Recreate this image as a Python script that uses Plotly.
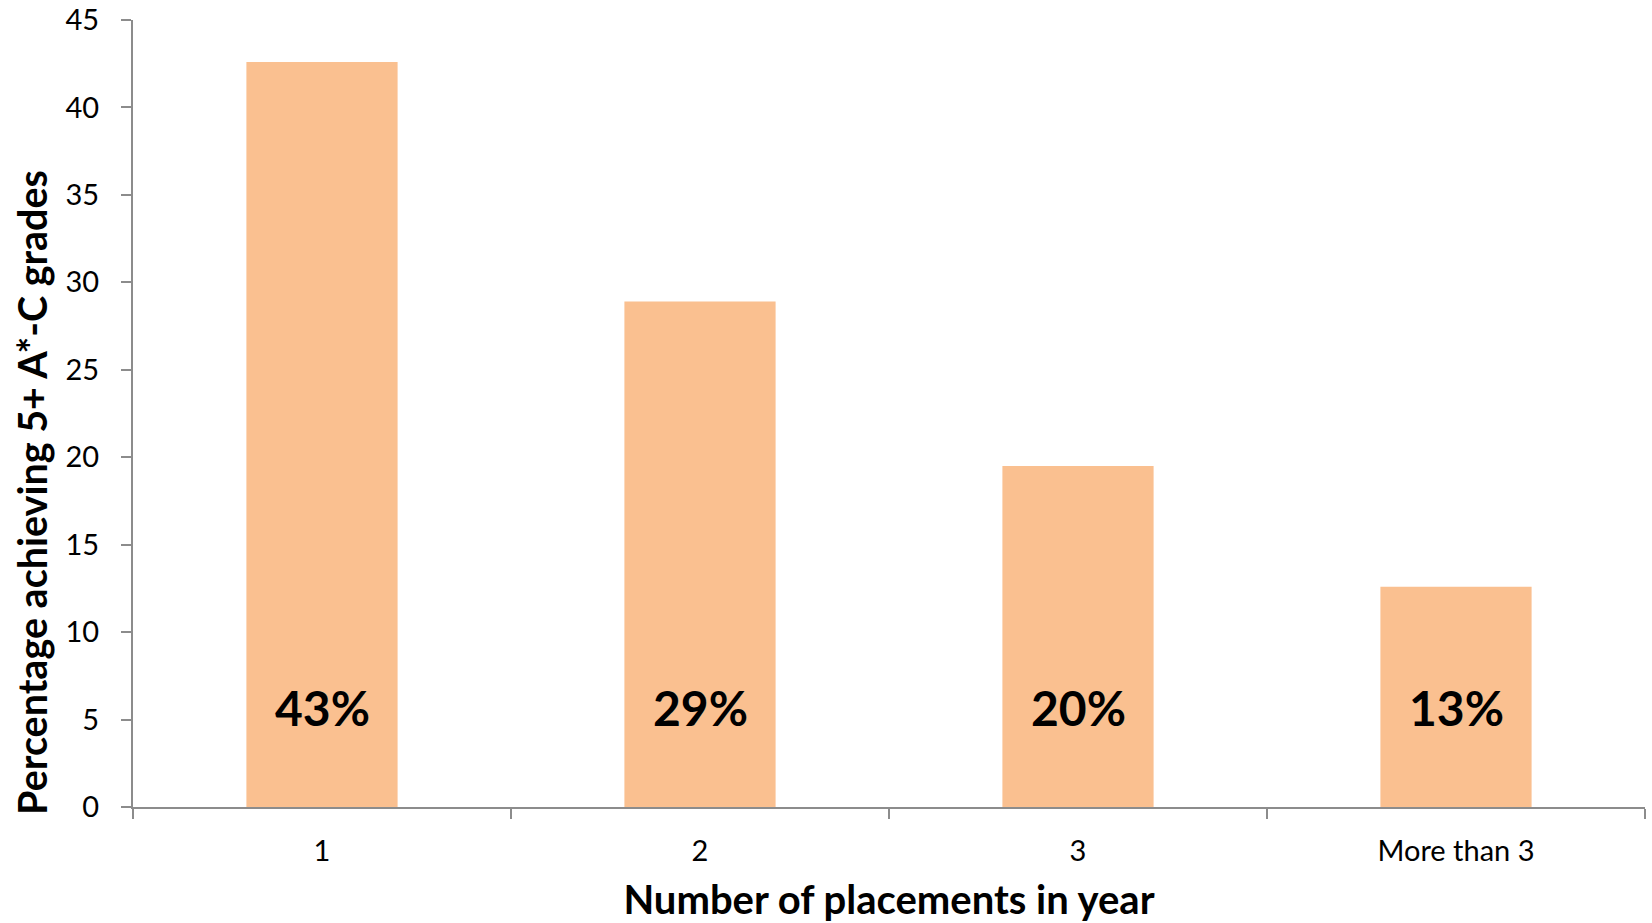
import plotly.graph_objects as go

# Share of pupils achieving 5+ A*-C grades by number of care placements in the year
categories = ["1", "2", "3", "More than 3"]
percent_achieving = [42.6, 28.9, 19.5, 12.6]
value_labels = [f"{round(v)}%" for v in percent_achieving]
y_ticks = [0, 5, 10, 15, 20, 25, 30, 35, 40, 45]

BAR_COLOR = "#FAC090"
AXIS_COLOR = "#8C8C8C"
FONT = "Lato"

fig = go.Figure(
    go.Bar(
        x=categories,
        y=percent_achieving,
        marker=dict(color=BAR_COLOR, line=dict(width=0)),
        hoverinfo="x+y",
    )
)

# Bold percentage labels sitting low inside each bar (x given as category index)
for idx, label in enumerate(value_labels):
    fig.add_annotation(
        x=idx, xref="x", y=0, yref="y", yshift=100, text=f"<b>{label}</b>",
        showarrow=False, yanchor="middle", xanchor="center",
        font=dict(family=FONT, size=48, color="#000000"),
    )

# Vertical axis title, placed a little below the plot's mid-height
fig.add_annotation(
    x=-0.067, xref="paper", y=0.40, yref="paper",
    text="<b>Percentage achieving 5+ A*-C grades</b>", textangle=-90,
    showarrow=False, xanchor="center", yanchor="middle",
    font=dict(family=FONT, size=39.5, color="#000000"),
)

fig.update_layout(
    width=1652, height=923,
    margin=dict(l=133, r=7, t=19.5, b=116, autoexpand=False),
    paper_bgcolor="white", plot_bgcolor="white",
    bargap=0.6, showlegend=False,
    font=dict(family=FONT, color="#000000"),
)

fig.update_xaxes(
    type="category",
    showline=True, linecolor=AXIS_COLOR, linewidth=2,
    ticks="outside", tickson="boundaries", ticklen=10, tickwidth=2, tickcolor=AXIS_COLOR,
    tickfont=dict(family=FONT, size=29, color="#000000"),
    ticklabelstandoff=17,
    showgrid=False, zeroline=False,
    title=dict(text="<b>Number of placements in year</b>", standoff=22,
               font=dict(family=FONT, size=40, color="#000000")),
    automargin=False,
)

fig.update_yaxes(
    range=[0, 45], tickvals=y_ticks,
    showline=True, linecolor=AXIS_COLOR, linewidth=2,
    ticks="outside", ticklen=10, tickwidth=2, tickcolor=AXIS_COLOR,
    tickfont=dict(family=FONT, size=29, color="#000000"),
    ticklabelstandoff=16,
    showgrid=False, zeroline=False,
    automargin=False,
)

fig.write_html("out.html")
